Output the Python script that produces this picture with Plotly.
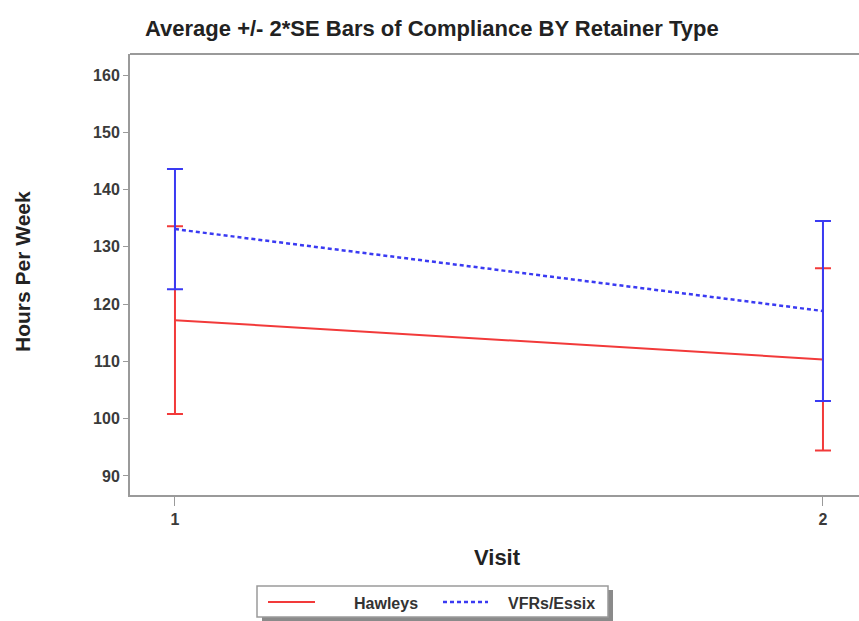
import plotly.graph_objects as go

# Mean weekly wear time (hours) by visit, with +/- 2*SE half-widths
visits = [1, 2]
hawleys_mean = [117.2, 110.35]
hawleys_2se = [16.4, 15.9]
essix_mean = [133.1, 118.8]
essix_2se = [10.5, 15.7]

y_ticks = [90, 100, 110, 120, 130, 140, 150, 160]
x_ticks = [1, 2]

RED = "#f23a3a"
BLUE = "#3a3af2"
FONT = "Liberation Sans, Arial, sans-serif"

W, H = 859, 621
L, R, T, B = 130, 0, 54, 126
PW, PH = W - L - R, H - T - B


def px(x):
    return (x - L) / PW


def py(y):
    return (H - B - y) / PH


fig = go.Figure()

fig.add_trace(go.Scatter(
    x=visits, y=hawleys_mean, mode="lines", name="Hawleys",
    line=dict(color=RED, width=2),
    error_y=dict(type="data", array=hawleys_2se, symmetric=True,
                 color=RED, thickness=2, width=8),
    showlegend=False,
))
fig.add_trace(go.Scatter(
    x=visits, y=essix_mean, mode="lines", name="VFRs/Essix",
    line=dict(color=BLUE, width=2.5, dash="4px,3px"),
    error_y=dict(type="data", array=essix_2se, symmetric=True,
                 color=BLUE, thickness=2, width=8),
    showlegend=False,
))

axis_font = dict(family=FONT, size=16, color="#3a3a3a", weight="bold")

fig.update_xaxes(
    range=[0.9306, 2.0556], tickvals=x_ticks, ticktext=[str(v) for v in x_ticks],
    showgrid=False, zeroline=False, showline=True, linecolor="#9a9a9a", linewidth=2,
    ticks="outside", ticklen=9, tickcolor="#9a9a9a", tickfont=axis_font,
)
fig.update_yaxes(
    range=[86.68, 163.67], tickvals=y_ticks,
    showgrid=False, zeroline=False, showline=True, linecolor="#9a9a9a", linewidth=2,
    ticks="outside", ticklen=5, tickcolor="#9a9a9a", tickfont=axis_font,
)

shapes = [
    # top border of the frame
    dict(type="line", xref="paper", yref="paper", x0=0, x1=1, y0=1, y1=1,
         line=dict(color="#9a9a9a", width=2)),
    # legend drop shadow and box
    dict(type="rect", xref="paper", yref="paper",
         x0=px(262), x1=px(613), y0=py(621), y1=py(590),
         fillcolor="#8a8a8a", line=dict(width=0)),
    dict(type="rect", xref="paper", yref="paper",
         x0=px(257), x1=px(608), y0=py(617), y1=py(586),
         fillcolor="white", line=dict(color="#9a9a9a", width=1.5)),
    # legend line samples
    dict(type="line", xref="paper", yref="paper",
         x0=px(268), x1=px(315), y0=py(602), y1=py(602),
         line=dict(color=RED, width=2)),
    dict(type="line", xref="paper", yref="paper",
         x0=px(443), x1=px(488), y0=py(602), y1=py(602),
         line=dict(color=BLUE, width=2.5, dash="4px,3px")),
]

annotations = [
    dict(text="<b>Average +/- 2*SE Bars of Compliance BY Retainer Type</b>",
         xref="paper", yref="paper", x=px(432), y=py(28), xanchor="center", yanchor="middle",
         showarrow=False, font=dict(family=FONT, size=22, color="#222222")),
    dict(text="<b>Visit</b>", xref="paper", yref="paper", x=px(498), y=py(557),
         xanchor="center", yanchor="middle", showarrow=False,
         font=dict(family=FONT, size=22, color="#222222")),
    dict(text="<b>Hours Per Week</b>", xref="paper", yref="paper", x=px(22), y=py(272),
         xanchor="center", yanchor="middle", textangle=-90, showarrow=False,
         font=dict(family=FONT, size=21, color="#222222")),
    dict(text="<b>Hawleys</b>", xref="paper", yref="paper", x=px(352), y=py(603),
         xanchor="left", yanchor="middle", showarrow=False,
         font=dict(family=FONT, size=16, color="#333333")),
    dict(text="<b>VFRs/Essix</b>", xref="paper", yref="paper", x=px(506), y=py(603),
         xanchor="left", yanchor="middle", showarrow=False,
         font=dict(family=FONT, size=16, color="#333333")),
]

fig.update_layout(
    width=W, height=H,
    margin=dict(l=L, r=R, t=T, b=B, pad=0),
    paper_bgcolor="white", plot_bgcolor="white",
    shapes=shapes, annotations=annotations,
    font=dict(family=FONT),
)

fig.write_html("out.html")
